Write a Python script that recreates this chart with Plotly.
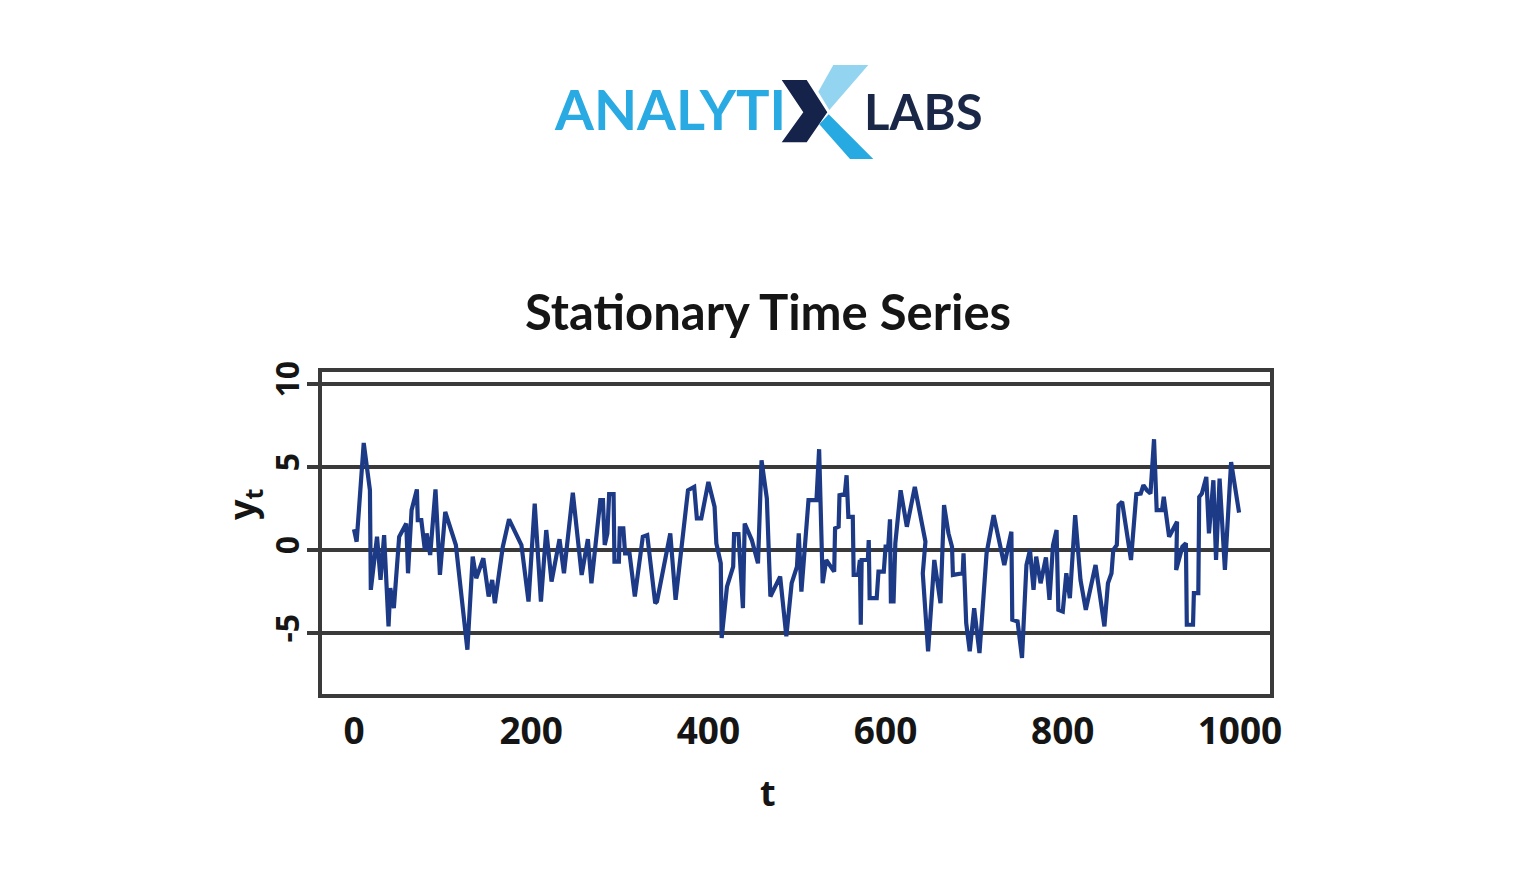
import plotly.graph_objects as go

# ---- data ----
t_values = [0, 3, 11, 18, 19, 26, 30, 34, 39, 41, 45, 51, 59, 61, 65, 71, 72, 76, 80, 82,
            86, 92, 97, 103, 115, 123, 128, 134, 138, 146, 152, 156, 159, 168, 175, 189, 197, 204, 211, 217,
            223, 232, 237, 247, 257, 264, 268, 278, 281, 283, 286, 288, 293, 294, 299, 300, 304, 306, 311, 317,
            326, 331, 340, 342, 357, 363, 377, 384, 387, 392, 400, 407, 409, 414, 415, 421, 428, 429, 434, 439,
            441, 449, 456, 460, 466, 470, 481, 488, 494, 500, 502, 505, 513, 522, 525, 529, 533, 542, 543, 547,
            548, 554, 556, 558, 563, 564, 569, 571, 572, 573, 580, 581, 582, 590, 592, 598, 600, 603, 605, 606,
            609, 611, 617, 624, 633, 645, 642, 648, 655, 662, 666, 671, 675, 676, 687, 688, 691, 695, 700, 706,
            714, 722, 734, 742, 743, 749, 754, 759, 763, 767, 770, 775, 781, 785, 789, 793, 795, 800, 804, 808,
            814, 820, 826, 837, 847, 851, 855, 857, 861, 863, 867, 877, 883, 888, 891, 895, 899, 903, 906, 912,
            914, 920, 929, 928, 935, 939, 940, 947, 948, 953, 954, 957, 962, 965, 970, 973, 977, 983, 990, 999]
y_values = [1.25, 0.5, 6.45, 3.6, -2.4, 0.8, -1.8, 0.9, -4.6, -2.3, -3.5, 0.8, 1.6, -1.4, 2.4, 3.65, 1.8, 1.8, 0.0, 1.0,
            -0.3, 3.65, -1.5, 2.3, 0.3, -3.4, -6.0, -0.4, -1.7, -0.5, -2.8, -1.8, -3.2, 0.2, 1.85, 0.3, -3.1, 2.8, -3.1, 1.2,
            -1.9, 0.65, -1.4, 3.45, -1.5, 0.65, -2.0, 3.0, 3.0, 0.3, 1.0, 3.37, 3.37, -0.7, -0.7, 1.3, 1.3, -0.2, -0.2, -2.8,
            0.8, 0.9, -3.2, -3.1, 1.0, -3.0, 3.6, 3.8, 1.9, 1.9, 4.1, 2.6, 0.4, -0.8, -5.3, -2.2, -1.0, 0.96, 0.96, -3.5,
            1.6, 0.6, -0.8, 5.4, 3.1, -2.8, -1.6, -5.2, -2.0, -1.0, 1.0, -2.5, 3.0, 3.0, 6.07, -2.0, -0.6, -1.3, 1.3, 1.4,
            3.3, 3.37, 4.5, 2.0, 2.0, -1.5, -1.5, -0.6, -4.5, -0.6, -0.6, 0.6, -2.9, -2.9, -1.3, -1.3, 0.2, 0.2, 1.85, -3.1,
            -3.1, 0.4, 3.6, 1.4, 3.8, 0.5, -1.4, -6.1, -0.6, -3.2, 2.7, 1.0, 0.2, -1.5, -1.4, -0.2, -4.4, -6.1, -3.5, -6.2,
            -0.2, 2.1, -0.9, 1.1, -4.2, -4.3, -6.5, -0.9, 0.0, -2.4, -0.4, -2.0, -0.45, -3.0, 0.3, 1.2, -3.6, -3.7, -1.4, -2.9,
            2.1, -1.8, -3.6, -0.9, -4.6, -2.0, -1.4, 0.0, 0.3, 2.7, 2.9, -0.6, 3.37, 3.4, 3.9, 3.6, 3.4, 6.67, 2.4, 2.4,
            3.2, 0.8, 1.7, -1.2, 0.2, 0.4, -4.5, -4.5, -2.6, -2.6, 3.2, 3.4, 4.4, 1.0, 4.2, -0.6, 4.3, -1.2, 5.3, 2.25]

x_ticks = [0, 200, 400, 600, 800, 1000]
y_ticks = [-5, 0, 5, 10]
y_tick_labels = ["-5", "0", "5", "10"]

title_text = "Stationary Time Series"
x_title = "t"
y_title = "y<sub>t</sub>"

# ---- layout geometry (target pixels on the page; page body adds an offset) ----
W, H = 1536, 896
OFF = 8
L, R, T, B = 322, 1270, 372, 694   # plot interior (border drawn just outside)
DARK = "#3a3a3a"
LINE = "#1d3a87"


def px(x):
    return (x - L) / (R - L)


def py(y):
    return (B - y) / (B - T)


fig = go.Figure()
fig.add_trace(go.Scatter(x=t_values, y=y_values, mode="lines",
                         line=dict(color=LINE, width=4.2), hoverinfo="x+y",
                         showlegend=False))

ml, mt = L - OFF, T - OFF
fig.update_layout(
    width=W, height=H,
    margin=dict(l=ml, r=W - ml - (R - L), t=mt, b=H - mt - (B - T), pad=0),
    paper_bgcolor="white", plot_bgcolor="white",
    showlegend=False,
    title=dict(text=title_text, x=(768 - OFF) / W, xref="container", xanchor="center",
               y=1 - (313 - OFF) / H, yref="container", yanchor="middle",
               font=dict(family="Lato", size=49, color="#151515", weight="bold")),
    xaxis=dict(range=[-36.1, 1033.9], tickvals=x_ticks, ticks="", showgrid=False,
               zeroline=False, showline=True, mirror=True, linewidth=3.5, linecolor=DARK,
               tickfont=dict(family="Open Sans", size=37, color="#151515", weight="bold"),
               ticklabelstandoff=2),
    yaxis=dict(range=[-8.67, 10.72], tickvals=y_ticks, ticktext=y_tick_labels,
               ticks="outside", ticklen=11,
               tickwidth=3.5, tickcolor=DARK, showgrid=True, gridcolor=DARK, gridwidth=3.5,
               zeroline=False, showline=True, mirror=True, linewidth=3.5, linecolor=DARK,
               tickangle=-90, ticklabelstandoff=-5,
               tickfont=dict(family="Open Sans", size=32, color="#151515", weight="bold")),
)

# axis titles
fig.add_annotation(text=x_title, x=px(768), y=py(792), xref="paper", yref="paper",
                   showarrow=False, xanchor="center", yanchor="middle",
                   font=dict(family="Open Sans", size=36, color="#151515", weight="bold"))
fig.add_annotation(text=y_title, x=px(243), y=py(505), xref="paper", yref="paper",
                   showarrow=False, xanchor="center", yanchor="middle", textangle=-90,
                   font=dict(family="Open Sans", size=36, color="#151515", weight="bold"))

# ---- logo ----
def poly(points, color):
    d = "M " + " L ".join(f"{px(a):.5f},{py(b):.5f}" for a, b in points) + " Z"
    fig.add_shape(type="path", path=d, xref="paper", yref="paper",
                  fillcolor=color, line=dict(width=0), layer="above")


poly([(833.3, 65), (868.3, 65), (829.3, 110), (818.3, 91.7)], "#93d4f1")
poly([(819.3, 124.3), (828.7, 114.3), (873.3, 159), (850, 159)], "#27a9e1")
poly([(781.7, 80), (806.7, 80), (827.3, 112.3), (806.7, 142.3), (781.7, 142.3), (803.3, 112.3)], "#15234a")

fig.add_annotation(text="ANALYTI", x=px(552), y=py(108), xref="paper", yref="paper",
                   showarrow=False, xanchor="left", yanchor="middle",
                   font=dict(family="Lato", size=56, color="#2aaae2", weight="bold"))
fig.add_annotation(text="LABS", x=px(862), y=py(111), xref="paper", yref="paper",
                   showarrow=False, xanchor="left", yanchor="middle",
                   font=dict(family="Lato", size=49, color="#1a2747", weight="bold"))

fig.write_html("out.html")
